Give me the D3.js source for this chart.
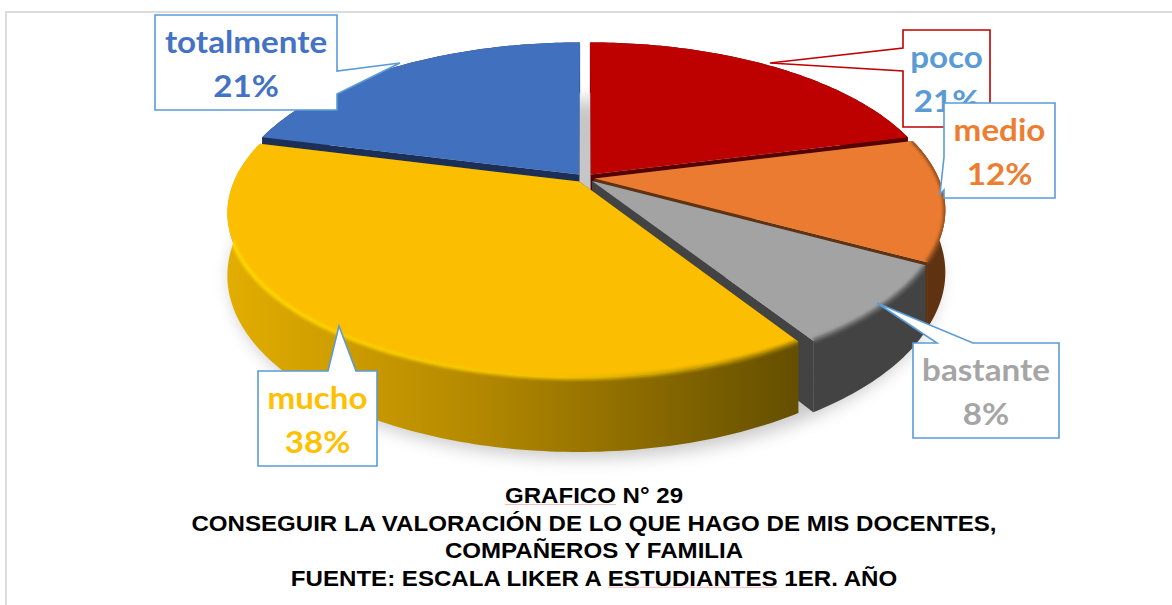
<!DOCTYPE html>
<html>
<head>
<meta charset="utf-8">
<script src="https://cdnjs.cloudflare.com/ajax/libs/d3/7.8.5/d3.min.js"></script>
<style>
  body { margin: 0; background: #fff; }
  svg { display: block; }
  .callout-text { font-family: Lato, sans-serif; font-weight: 700; font-size: 31px; text-anchor: middle; }
  .title { font-family: "Liberation Sans", Arial, sans-serif; font-weight: 700; font-size: 22.5px; text-anchor: middle; fill: #000; }
</style>
</head>
<body>
<script>
var categories = ["poco", "medio", "bastante", "mucho", "totalmente"];
var percents = [21, 12, 8, 38, 21];
var titleLines = [
    "GRAFICO N° 29",
    "CONSEGUIR LA VALORACIÓN DE LO QUE HAGO DE MIS DOCENTES,",
    "COMPAÑEROS Y FAMILIA",
    "FUENTE: ESCALA LIKER A ESTUDIANTES 1ER. AÑO"
];
// words the word processor marked with its spelling underline
var flaggedWords = ["GRAFICO", null, null, "ESTUDIANTES"];

var topColors = ["#bd0000", "#ea7b30", "#a3a3a3", "#fbbe00", "#4170bf"];
var wallColors = ["#560000", "#5f3212", "#434343", "url(#muchoWall)", "#1b2f57"];
var edgeColors = [null, "#8a4a1c", "#666666", "url(#muchoEdge)", null];
var textColors = ["#5b9bd5", "#ed7d31", "#a5a5a5", "#ffc000", "#4472c4"];

// draw order is back to front, pie starts at 12 o'clock going clockwise
var drawOrder = [4, 0, 1, 2, 3];

// callout boxes: x, y, w, h and the wedge (two base points + tip)
var callouts = [
    {box: [903, 30, 87, 97], stroke: "#c00000", wedge: [[903, 71], [770, 63], [903, 48]]},
    {box: [944, 103, 111, 95], stroke: "#5b9bd5", wedge: [[944, 190], [940, 194], [944, 157]]},
    {box: [913, 343, 146, 95], stroke: "#5b9bd5", wedge: [[973, 343], [877, 303], [937, 343]]},
    {box: [258, 371, 119, 95], stroke: "#5b9bd5", wedge: [[356, 371], [339, 326], [328, 371]]},
    {box: [155, 15, 182, 95], stroke: "#5b9bd5", wedge: [[337, 94], [400, 63], [337, 71]]}
];

var width = 1172, height = 605;
var textStretch = 1.07;

// perspective view of the pie disc
var cx = 585, cy = 178, radius = 344, tilt = 158, persp = 0.187, depth = 60, explode = 0.028;

function project(u, v, z) {
    var d = 1 - persp * v;
    return [cx + radius * u / d, cy + (tilt * v + depth * z) / d];
}

var svg = d3.select("body").append("svg")
    .attr("width", width)
    .attr("height", height);

var defs = svg.append("defs");
defs.append("filter").attr("id", "soft").attr("x", "-10%").attr("y", "-10%").attr("width", "120%").attr("height", "120%")
    .append("feGaussianBlur").attr("stdDeviation", 9);
defs.append("filter").attr("id", "edge").attr("x", "-10%").attr("y", "-10%").attr("width", "120%").attr("height", "120%")
    .append("feGaussianBlur").attr("stdDeviation", 1.6);

var muchoWall = defs.append("linearGradient").attr("id", "muchoWall")
    .attr("gradientUnits", "userSpaceOnUse")
    .attr("x1", 228).attr("y1", 0).attr("x2", 790).attr("y2", 0);
muchoWall.append("stop").attr("offset", "0").attr("stop-color", "#e2ad00");
muchoWall.append("stop").attr("offset", "0.45").attr("stop-color", "#b38800");
muchoWall.append("stop").attr("offset", "1").attr("stop-color", "#665000");

var muchoEdge = defs.append("linearGradient").attr("id", "muchoEdge")
    .attr("gradientUnits", "userSpaceOnUse")
    .attr("x1", 228).attr("y1", 0).attr("x2", 790).attr("y2", 0);
muchoEdge.append("stop").attr("offset", "0").attr("stop-color", "#ffd800");
muchoEdge.append("stop").attr("offset", "0.6").attr("stop-color", "#f2c000");
muchoEdge.append("stop").attr("offset", "1").attr("stop-color", "#a07c00");

// frame left over from the document
svg.append("path")
    .attr("d", d3.line()([[6, height], [6, 12], [width, 12]]))
    .attr("fill", "none")
    .attr("stroke", "#dcdcdc")
    .attr("stroke-width", 2);

var pie = d3.pie().sort(null)(percents);
var line = d3.line();

function rim(slice, z, ox, oy) {
    var n = Math.ceil((slice.endAngle - slice.startAngle) * 60);
    return d3.range(n + 1).map(function(i) {
        var a = slice.startAngle + (slice.endAngle - slice.startAngle) * i / n;
        return project(Math.sin(a) + ox, -Math.cos(a) + oy, z);
    });
}

function offset(slice) {
    var mid = (slice.startAngle + slice.endAngle) / 2;
    return [Math.sin(mid) * explode, -Math.cos(mid) * explode];
}

// soft shadow under the whole pie
svg.append("path")
    .attr("d", line(d3.range(121).map(function(i) {
        var a = i / 120 * 2 * Math.PI;
        return project(Math.sin(a) * 1.01, -Math.cos(a) * 1.01, 1.12);
    })) + "Z")
    .attr("fill", "#000")
    .attr("opacity", 0.22)
    .attr("filter", "url(#soft)");

var slices = svg.append("g").selectAll("g")
    .data(drawOrder)
    .enter().append("g");

slices.each(function(k) {
    var g = d3.select(this);
    var s = pie[k];
    var o = offset(s);
    var topRim = rim(s, 0, o[0], o[1]);
    var lowRim = rim(s, 1, o[0], o[1]);
    var apexTop = project(o[0], o[1], 0);
    var apexLow = project(o[0], o[1], 1);
    var wall = wallColors[k];
    var wallPath = line(topRim.concat(lowRim.slice().reverse())) + "Z";
    var facePath = line([apexTop].concat(topRim)) + "Z";

    // the two cut walls
    [topRim[0], topRim[topRim.length - 1]].forEach(function(p, i) {
        var q = i == 0 ? lowRim[0] : lowRim[lowRim.length - 1];
        g.append("path")
            .attr("d", line([apexTop, p, q, apexLow]) + "Z")
            .attr("fill", k == 3 ? "#665000" : wall);
    });
    // outer wall
    g.append("path")
        .attr("d", wallPath)
        .attr("fill", wall);
    // top face
    g.append("path")
        .attr("d", facePath)
        .attr("fill", topColors[k]);
    // bevel along the rim, kept inside the slice
    if (edgeColors[k]) {
        var clip = defs.append("clipPath").attr("id", "clip" + k);
        clip.append("path").attr("d", wallPath);
        clip.append("path").attr("d", facePath);
        g.append("g")
            .attr("clip-path", "url(#clip" + k + ")")
            .append("path")
            .attr("d", line(topRim))
            .attr("fill", "none")
            .attr("stroke", edgeColors[k])
            .attr("stroke-width", 4)
            .attr("filter", "url(#edge)");
    }
});

// callouts
var labels = svg.append("g").selectAll("g")
    .data(callouts)
    .enter().append("g");

function stretchedText(parent, cls, x, y, fill, str) {
    return parent.append("text")
        .attr("class", cls)
        .attr("transform", "translate(" + x + "," + y + ") scale(" + textStretch + ",1)")
        .attr("fill", fill)
        .text(str);
}

labels.each(function(c, i) {
    var g = d3.select(this);
    var b = c.box;
    var x0 = b[0], y0 = b[1], x1 = b[0] + b[2], y1 = b[1] + b[3];
    var pts;
    if (c.wedge[0][0] == x0) {
        pts = [[x0, y0], [x1, y0], [x1, y1], [x0, y1]].concat(c.wedge);
    } else if (c.wedge[0][0] == x1) {
        pts = [[x0, y0], [x1, y0]].concat(c.wedge.slice().reverse()).concat([[x1, y1], [x0, y1]]);
    } else {
        pts = [[x0, y0]].concat(c.wedge.slice().reverse()).concat([[x1, y0], [x1, y1], [x0, y1]]);
    }
    g.append("path")
        .attr("d", line(pts) + "Z")
        .attr("fill", "#fff")
        .attr("stroke", c.stroke)
        .attr("stroke-width", 1.6);
    stretchedText(g, "callout-text", x0 + b[2] / 2, y0 + 38, textColors[i], categories[i]);
    stretchedText(g, "callout-text", x0 + b[2] / 2, y0 + 82, textColors[i], percents[i] + "%");
});

// caption
var captionGroup = svg.append("g");
titleLines.forEach(function(d, i) {
    var y = 503 + i * 27.6;
    var t = stretchedText(captionGroup, "title", 594, y, "#000", d);
    var word = flaggedWords[i];
    if (word) {
        var node = t.node();
        var at = d.indexOf(word);
        var x1 = node.getStartPositionOfChar(at).x;
        var x2 = node.getEndPositionOfChar(at + word.length - 1).x;
        captionGroup.append("line")
            .attr("x1", 594 + x1 * textStretch)
            .attr("x2", 594 + x2 * textStretch)
            .attr("y1", y + 1.5)
            .attr("y2", y + 1.5)
            .attr("stroke", "#f6bcbc")
            .attr("stroke-width", 1);
    }
});
</script>
</body>
</html>
